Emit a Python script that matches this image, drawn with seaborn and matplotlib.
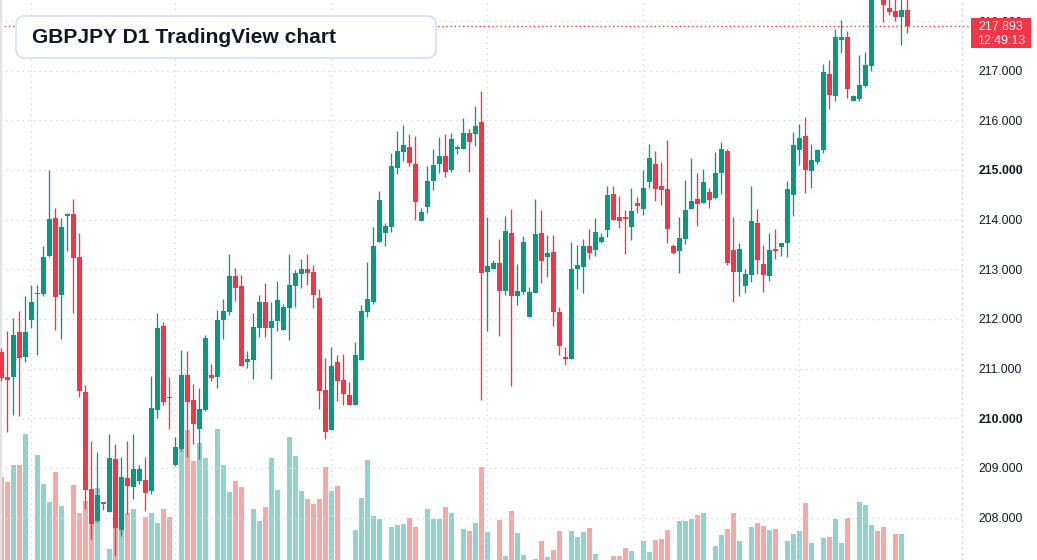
import numpy as np
import pandas as pd
import matplotlib
matplotlib.use("Agg")
import matplotlib.pyplot as plt
from matplotlib.patches import FancyBboxPatch, Rectangle
import seaborn as sns

# GBPJPY daily candles
opens = [211.34, 210.83, 210.83, 211.74, 211.23, 211.97, 212.50, 212.51, 213.27, 214.03,
         212.49, 214.07, 214.11, 213.25, 210.53, 208.57, 207.94, 208.30, 208.12, 209.18,
         207.76, 208.80, 208.62, 208.74, 208.76, 208.54, 210.17, 211.86, 210.42, 209.05,
         209.39, 210.87, 210.37, 209.79, 210.17, 210.87, 210.84, 211.97, 212.15, 212.87,
         212.66, 211.14, 211.18, 211.82, 212.34, 211.82, 211.95, 211.78, 212.23, 212.67,
         212.91, 213.01, 212.95, 212.42, 210.57, 209.77, 211.13, 210.77, 210.47, 210.27,
         211.18, 212.15, 212.35, 213.56, 213.74, 213.86, 215.05, 215.37, 215.46, 215.12,
         213.98, 214.26, 214.78, 215.13, 215.28, 214.99, 215.43, 215.43, 215.75, 215.73,
         215.97, 212.95, 213.01, 213.13, 212.57, 213.73, 212.47, 212.55, 212.03, 212.53,
         213.73, 213.25, 213.35, 212.14, 211.22, 211.20, 213.01, 213.05, 213.47, 213.38,
         213.56, 213.80, 214.52, 214.05, 214.04, 213.86, 214.34, 214.22, 214.76, 215.12,
         214.68, 214.62, 213.47, 213.36, 213.62, 214.22, 214.42, 214.34, 214.56, 214.44,
         214.93, 215.38, 213.39, 212.95, 212.67, 212.89, 213.93, 213.11, 212.87, 213.41,
         213.45, 213.53, 214.50, 215.40, 215.68, 214.98, 215.16, 215.40, 216.93, 216.49,
         217.62, 217.68, 216.39, 216.43, 216.69, 217.09, 218.62, 218.55, 218.26, 218.20,
         218.08, 218.22]
highs = [211.42, 211.76, 212.02, 212.16, 212.47, 212.68, 212.68, 213.47, 215.00, 214.24,
         214.03, 214.13, 214.42, 213.73, 210.67, 209.54, 209.32, 208.30, 209.68, 209.48,
         209.23, 209.54, 209.68, 209.06, 209.23, 210.85, 212.12, 211.93, 210.83, 209.62,
         211.38, 211.36, 210.69, 210.61, 211.68, 211.09, 212.18, 212.40, 213.31, 213.03,
         212.89, 211.36, 212.13, 212.48, 212.72, 212.34, 212.77, 212.30, 213.31, 212.99,
         213.21, 213.31, 213.09, 212.60, 211.21, 211.44, 211.27, 211.29, 210.73, 211.54,
         212.28, 213.15, 213.85, 214.58, 213.93, 215.34, 215.79, 215.91, 215.73, 215.68,
         214.24, 215.08, 215.42, 215.66, 215.73, 215.75, 215.50, 216.05, 215.83, 216.29,
         216.59, 214.05, 213.19, 213.61, 214.07, 214.21, 213.11, 213.67, 212.64, 214.42,
         214.19, 213.69, 213.69, 212.24, 211.44, 213.55, 213.49, 213.61, 213.81, 214.03,
         213.73, 214.68, 214.68, 214.48, 214.19, 214.64, 214.46, 215.00, 215.52, 215.38,
         215.16, 215.60, 213.51, 214.05, 214.80, 215.24, 214.94, 215.02, 214.64, 215.36,
         215.56, 215.42, 214.05, 213.53, 213.01, 214.68, 214.21, 213.49, 213.73, 213.81,
         213.53, 214.78, 215.77, 215.93, 216.07, 215.52, 215.42, 217.13, 217.22, 217.84,
         218.02, 217.80, 216.51, 217.32, 217.38, 218.72, 218.85, 218.65, 218.45, 218.48,
         218.47, 218.46]
lows = [210.75, 209.73, 210.07, 210.05, 211.14, 211.81, 211.28, 212.47, 213.25, 211.78,
        211.60, 213.36, 212.12, 210.42, 208.18, 207.56, 207.92, 208.15, 208.12, 207.23,
        207.64, 208.08, 208.38, 208.68, 208.14, 208.48, 210.01, 210.27, 209.79, 209.03,
        209.35, 209.23, 209.49, 209.19, 210.15, 210.76, 210.62, 211.60, 212.09, 212.37,
        211.06, 211.02, 210.80, 211.64, 211.64, 210.80, 211.76, 211.78, 211.58, 212.25,
        212.63, 212.69, 212.23, 210.19, 209.59, 209.77, 210.35, 210.27, 210.27, 210.27,
        211.18, 212.05, 212.31, 213.56, 213.46, 213.76, 214.91, 215.19, 215.09, 214.00,
        213.98, 214.14, 214.60, 214.93, 214.85, 214.95, 215.32, 215.43, 214.95, 215.49,
        210.37, 211.76, 213.01, 211.66, 212.49, 210.66, 212.29, 212.51, 212.03, 212.53,
        212.73, 212.85, 211.86, 211.28, 211.08, 211.20, 212.61, 212.53, 213.21, 213.27,
        213.52, 213.66, 214.00, 213.84, 213.31, 213.60, 214.14, 214.10, 214.64, 214.38,
        214.30, 213.54, 213.31, 212.93, 213.50, 214.22, 213.88, 214.34, 214.24, 214.42,
        214.52, 213.09, 212.35, 212.47, 212.53, 212.75, 212.91, 212.55, 212.77, 213.21,
        213.27, 213.25, 214.07, 215.10, 214.54, 214.64, 215.12, 215.34, 216.23, 216.39,
        217.36, 216.45, 216.39, 216.39, 216.67, 216.99, 218.48, 217.99, 218.12, 218.00,
        217.52, 217.76]
closes = [210.81, 210.78, 211.68, 211.22, 211.74, 212.34, 212.53, 213.25, 214.01, 212.45,
          213.85, 214.11, 213.23, 210.56, 208.56, 207.88, 208.46, 208.28, 209.20, 207.80,
          208.82, 208.64, 208.98, 208.98, 208.50, 210.21, 211.82, 210.33, 210.40, 209.42,
          210.87, 210.33, 209.89, 210.19, 211.62, 210.82, 211.98, 212.16, 212.87, 212.63,
          211.06, 211.19, 211.84, 212.34, 211.82, 211.96, 212.38, 212.24, 212.68, 212.93,
          213.01, 212.93, 212.49, 210.56, 209.73, 211.05, 210.76, 210.48, 210.27, 211.27,
          212.16, 212.40, 213.47, 214.40, 213.87, 215.08, 215.38, 215.50, 215.15, 214.36,
          214.15, 214.78, 215.10, 215.28, 214.95, 215.62, 215.45, 215.75, 215.57, 215.89,
          212.93, 213.07, 213.13, 212.57, 213.77, 212.47, 212.56, 213.55, 212.54, 213.71,
          213.17, 213.33, 212.15, 211.46, 211.20, 213.01, 213.09, 213.47, 213.33, 213.75,
          213.65, 214.50, 214.00, 213.98, 214.02, 214.17, 214.28, 214.64, 215.24, 214.62,
          214.60, 213.82, 213.33, 213.63, 214.19, 214.38, 214.32, 214.76, 214.40, 214.94,
          215.42, 213.13, 212.95, 213.41, 212.91, 213.97, 213.19, 212.89, 213.39, 213.37,
          213.53, 214.62, 215.50, 215.65, 215.00, 215.20, 215.40, 216.97, 216.51, 217.68,
          217.68, 216.63, 216.50, 216.71, 217.11, 218.60, 218.52, 218.33, 218.18, 218.08,
          218.22, 217.893]
volume = [103, 98, 115, 115, 146, 5, 125, 96, 78, 108, 74, 5, 95, 67, 79, 57, 92, 5, 31, 52,
          50, 67, 71, 5, 63, 67, 57, 71, 63, 5, 140, 150, 119, 137, 122, 5, 151, 115, 88, 99,
          93, 5, 71, 59, 73, 122, 90, 5, 143, 124, 89, 81, 76, 81, 113, 89, 94, 5, 5, 50,
          82, 120, 64, 61, 5, 53, 55, 56, 62, 53, 5, 71, 61, 61, 73, 67, 5, 51, 49, 57,
          113, 48, 5, 60, 24, 69, 47, 25, 5, 21, 39, 23, 30, 49, 5, 49, 43, 48, 52, 26,
          5, 5, 24, 24, 32, 29, 5, 39, 28, 40, 41, 50, 5, 59, 59, 61, 65, 67, 5, 34,
          45, 51, 67, 39, 5, 53, 57, 54, 50, 51, 5, 39, 46, 49, 77, 37, 5, 42, 43, 61,
          37, 62, 5, 78, 75, 55, 49, 53, 5, 46, 46, 5]

price_ticks = [208, 209, 210, 211, 212, 213, 214, 215, 216, 217, 218]
month_starts = [5, 29, 55, 81, 107, 133]
last_price = 217.893
countdown = "12:49:13"

UP, DOWN = "#089981", "#f23645"
VOL_UP, VOL_DOWN = "#26a69a", "#ef5350"
GRID = "#d6d9e0"
TEXT = "#131722"

df = pd.DataFrame({"open": opens, "high": highs, "low": lows,
                   "close": closes, "volume": volume})
df["bar"] = np.arange(len(df))
df["dir"] = np.where(df["close"] >= df["open"], "up", "down")

sns.set_theme(style="white")
plt.rcParams["font.family"] = ["Liberation Sans", "DejaVu Sans"]

fig = plt.figure(figsize=(10.37, 5.6), dpi=100)
rect = [0, 0, 962 / 1037, 1]
xlim = (-0.22, 160.1)

# volume pane underneath
ax_vol = fig.add_axes(rect)
sns.barplot(data=df, x="bar", y="volume", hue="dir", native_scale=True, dodge=False,
            palette={"up": VOL_UP, "down": VOL_DOWN}, alpha=0.5, width=0.83,
            errorbar=None, legend=False, saturation=1, linewidth=0, ax=ax_vol)
ax_vol.set_ylim(20, 580)
ax_vol.set_xlim(*xlim)
ax_vol.set_xticks([])
ax_vol.set_yticks([])
ax_vol.set_xlabel("")
ax_vol.set_ylabel("")
for s in ax_vol.spines.values():
    s.set_visible(False)

# price pane on top
ax = fig.add_axes(rect)
ax.patch.set_visible(False)
colors = np.where(df["dir"] == "up", UP, DOWN)
ax.vlines(df["bar"], df["low"], df["high"], colors=colors, lw=0.95, zorder=3)
body_lo = np.minimum(df["open"], df["close"])
body_h = np.maximum(np.abs(df["close"] - df["open"]), 0.03)
ax.bar(df["bar"], body_h, bottom=body_lo, width=0.83, color=colors, linewidth=0, zorder=4)

ax.set_xlim(*xlim)
ax.set_ylim(207.147, 218.423)
ax.set_xticks(month_starts)
ax.set_xticklabels([])
ax.set_yticks(price_ticks)
ax.set_yticklabels([f"{v:.3f}" for v in price_ticks])
ax.yaxis.tick_right()
ax.tick_params(axis="both", length=0)
ax.tick_params(axis="y", pad=12, labelsize=8.8, labelcolor=TEXT)
for lab, v in zip(ax.get_yticklabels(), price_ticks):
    if v % 5 == 0:
        lab.set_fontweight("bold")
ax.grid(True, color=GRID, linestyle=(0, (1, 3)), linewidth=1)
for side in ["top", "bottom"]:
    ax.spines[side].set_visible(False)
ax.spines["left"].set_color("#e3e3e3")
ax.spines["left"].set_linewidth(2.5)
ax.spines["right"].set_color(GRID)
ax.spines["right"].set_linestyle((0, (1, 3)))
ax.spines["right"].set_linewidth(1)

# last price line and label (the label sits over the 218.000 tick, as in TradingView)
ax.axhline(last_price, xmin=0, xmax=1.01, color=DOWN, linestyle=(0, (1, 2)),
           linewidth=1, clip_on=False, zorder=2)
fig.patches.append(Rectangle((971, 560 - 48), 60, 30, transform=None,
                             facecolor=DOWN, edgecolor="none", zorder=5))
fig.text(1001 / 1037, 1 - 26.5 / 560, f"{last_price:.3f}", ha="center", va="center",
         color="white", fontsize=8.9, zorder=6)
fig.text(1001 / 1037, 1 - 40.5 / 560, countdown, ha="center", va="center",
         color="white", fontsize=8.9, zorder=6)

# title box
fig.patches.append(FancyBboxPatch((16, 560 - 58), 420, 42, transform=None,
                                  boxstyle="round,pad=0,rounding_size=9",
                                  facecolor="white", edgecolor="#d2e0f7",
                                  linewidth=1.2, zorder=5))
fig.text(32 / 1037, 1 - 37.5 / 560, "GBPJPY D1 TradingView chart", ha="left",
         va="center", fontsize=15.1, fontweight="bold", color=TEXT, zorder=6)

fig.savefig("out.png", dpi=100)
